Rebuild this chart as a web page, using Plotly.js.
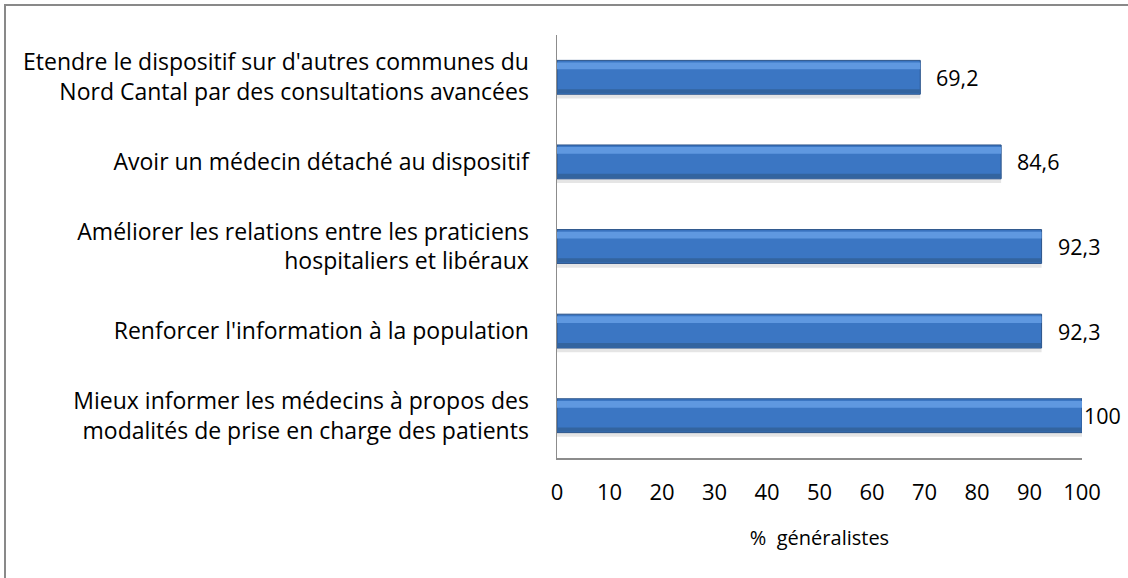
<!DOCTYPE html>
<html>
<head>
<meta charset="utf-8">
<script src="https://cdn.plot.ly/plotly-3.0.1.min.js"></script>
<style>html,body{margin:0;padding:0;background:#fff;}#chart{width:1128px;height:578px;}</style>
</head>
<body>
<div id="chart"></div>
<script>
const categories = [
  "Etendre le dispositif sur d'autres communes du<br>Nord Cantal par des consultations avancées",
  "Avoir un médecin détaché au dispositif",
  "Améliorer les relations entre les praticiens<br>hospitaliers et libéraux",
  "Renforcer l'information à la population",
  "Mieux informer les médecins à propos des<br>modalités de prise en charge des patients"
];
const values = [69.2, 84.6, 92.3, 92.3, 100];
const xTickValues = [0, 10, 20, 30, 40, 50, 60, 70, 80, 90, 100];
const xTitle = "% &nbsp;généralistes";

const FONT = "'Open Sans', Lato, sans-serif";
const maxV = Math.max(...values);
const labels = values.map(v => String(v).replace('.', ','));

const base = {type: 'bar', orientation: 'h', x: values, y: categories, hoverinfo: 'skip'};
const traces = [
  // soft shadow under the bar
  Object.assign({}, base, {width: 0.05, offset: 0.2, marker: {color: 'rgba(0,0,0,0.10)', line: {width: 0}}}),
  // main bar
  Object.assign({}, base, {width: 0.4, offset: -0.2, marker: {color: '#3b76c3', line: {color: '#2a5288', width: 1}}}),
  // top highlight
  Object.assign({}, base, {width: 0.08, offset: -0.175, marker: {color: '#5f98e0', line: {width: 0}}}),
  // bottom darker band
  Object.assign({}, base, {width: 0.05, offset: 0.14, marker: {color: '#33649f', line: {width: 0}}})
];

const annotations = values.map((v, i) => ({
  x: v, y: categories[i], xref: 'x', yref: 'y',
  text: labels[i], showarrow: false, xanchor: 'left',
  xshift: v === maxV ? 0 : 14,
  font: {family: FONT, size: 21.5, color: '#000'}
}));

const layout = {
  width: 1128, height: 578,
  margin: {l: 557, r: 46, t: 35, b: 120},
  paper_bgcolor: '#fff', plot_bgcolor: '#fff',
  showlegend: false, barmode: 'overlay',
  font: {family: FONT, size: 22, color: '#000'},
  xaxis: {
    range: [0, 100], tickvals: xTickValues, ticktext: xTickValues.map(String),
    showgrid: false, zeroline: false, showline: true, linecolor: '#8c8c8c', linewidth: 1.5,
    ticks: 'outside', ticklen: 14, tickcolor: 'rgba(0,0,0,0)',
    tickfont: {family: FONT, size: 22, color: '#000'},
    title: {text: xTitle, standoff: 26, font: {family: FONT, size: 20, color: '#000'}},
    fixedrange: true
  },
  yaxis: {
    autorange: 'reversed', showgrid: false, zeroline: false,
    showline: true, linecolor: '#8c8c8c', linewidth: 1.5,
    ticks: 'outside', ticklen: 22, tickcolor: 'rgba(0,0,0,0)',
    tickfont: {family: FONT, size: 23, color: '#000'},
    fixedrange: true
  },
  annotations: annotations,
  shapes: [{
    type: 'rect', xref: 'paper', yref: 'paper',
    x0: (5 - 557) / 525, x1: 1.3, y0: -0.6, y1: (458 - 5) / 423,
    line: {color: '#898989', width: 2}, fillcolor: 'rgba(0,0,0,0)', layer: 'below'
  }]
};

Plotly.newPlot('chart', traces, layout, {displayModeBar: false, staticPlot: true});
</script>
</body>
</html>
